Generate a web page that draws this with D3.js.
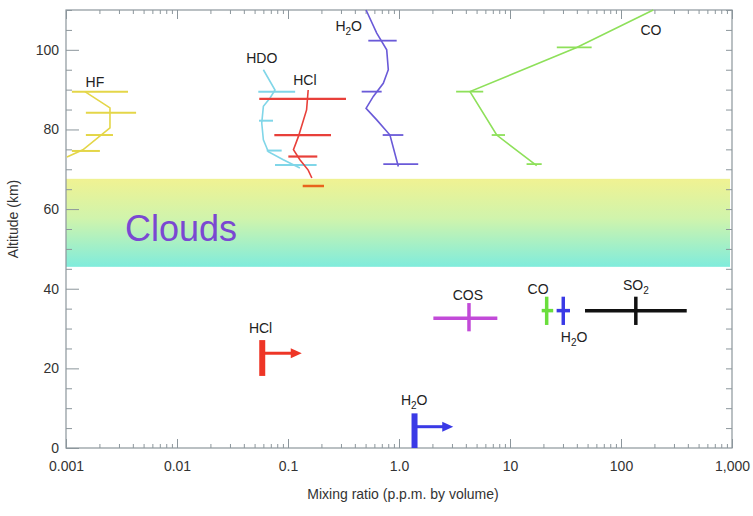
<!DOCTYPE html>
<html>
<head>
<meta charset="utf-8">
<script src="https://cdn.jsdelivr.net/npm/d3@7"></script>
<style>
  body { margin: 0; background: #fff; }
  svg { display: block; font-family: 'Liberation Sans', Arial, sans-serif; }
</style>
</head>
<body>
<div id="chart"></div>
<script>
const WIDTH = 753;
const HEIGHT = 516;

// axis ticks
const xTickValues = [0.001, 0.01, 0.1, 1, 10, 100, 1000];
const xTickLabels = ['0.001', '0.01', '0.1', '1.0', '10', '100', '1,000'];
const yTickValues = [0, 20, 40, 60, 80, 100];

// cloud deck (km)
const cloudBase = 45.5;
const cloudTop = 67.6;

// profiles above the clouds: altitude (km) / mixing ratio (ppm)
const hfProfile = [
  { km: 89.5, ppm: 0.00148 }, { km: 85.4, ppm: 0.00249 }, { km: 80.4, ppm: 0.00249 },
  { km: 74.9, ppm: 0.00142 }, { km: 73.1, ppm: 0.00102 },
];
const hfErrors = [
  { km: 89.5, lo: 0.00113, hi: 0.00362 }, { km: 84.2, lo: 0.00151, hi: 0.00428 },
  { km: 78.6, lo: 0.00151, hi: 0.00265 }, { km: 74.6, lo: 0.00113, hi: 0.00202 },
];

const hdoProfile = [
  { km: 95.0, ppm: 0.060 }, { km: 89.9, ppm: 0.0764 }, { km: 87.9, ppm: 0.0689 },
  { km: 85.8, ppm: 0.060 }, { km: 81.6, ppm: 0.058 }, { km: 77.4, ppm: 0.060 },
  { km: 74.4, ppm: 0.0665 }, { km: 72.4, ppm: 0.0907 }, { km: 70.3, ppm: 0.128 },
];
const hdoErrors = [
  { km: 89.5, lo: 0.054, hi: 0.116 }, { km: 82.2, lo: 0.0548, hi: 0.0733 },
  { km: 74.7, lo: 0.0643, hi: 0.0877 }, { km: 71.1, lo: 0.0764, hi: 0.181 },
];

const hclProfile = [
  { km: 89.9, ppm: 0.152 }, { km: 84.9, ppm: 0.147 }, { km: 78.2, ppm: 0.124 },
  { km: 74.9, ppm: 0.112 }, { km: 72.4, ppm: 0.128 }, { km: 69.8, ppm: 0.152 },
  { km: 67.8, ppm: 0.164 },
];
const hclErrors = [
  { km: 87.7, lo: 0.0551, hi: 0.333 }, { km: 78.6, lo: 0.0753, hi: 0.244 },
  { km: 73.2, lo: 0.1007, hi: 0.1836 },
];
const hclCloudTopError = [{ km: 65.8, lo: 0.1357, hi: 0.211 }];

const h2oProfile = [
  { km: 110, ppm: 0.505 }, { km: 104.2, ppm: 0.630 }, { km: 100, ppm: 0.775 },
  { km: 95, ppm: 0.801 }, { km: 91.6, ppm: 0.722 }, { km: 88.3, ppm: 0.587 },
  { km: 85.3, ppm: 0.505 }, { km: 82.4, ppm: 0.630 }, { km: 78.6, ppm: 0.829 },
  { km: 70.7, ppm: 0.986 },
];
const h2oErrors = [
  { km: 102.3, lo: 0.529, hi: 0.953 }, { km: 89.5, lo: 0.461, hi: 0.698 },
  { km: 78.6, lo: 0.713, hi: 1.094 }, { km: 71.3, lo: 0.722, hi: 1.49 },
];

const coProfile = [
  { km: 110, ppm: 195 }, { km: 100.6, ppm: 39.9 }, { km: 89.5, ppm: 4.36 },
  { km: 78.6, ppm: 7.59 }, { km: 70.9, ppm: 17.4 },
];
const coErrors = [
  { km: 100.6, lo: 26.4, hi: 54.4 }, { km: 89.5, lo: 3.27, hi: 5.74 },
  { km: 78.6, lo: 6.84, hi: 9.02 }, { km: 71.3, lo: 14.1, hi: 19.3 },
];

// below the clouds: value with ranges in ppm and km
const belowCloudMeasures = [
  { name: 'COS', km: 32.6, ppm: 4.27, lo: 2.04, hi: 7.69, kmLo: 29.3, kmHi: 36.4 },
  { name: 'CO', km: 34.5, ppm: 21.4, lo: 19.3, hi: 24.5, kmLo: 30.9, kmHi: 38.0 },
  { name: 'H2O', km: 34.5, ppm: 30.2, lo: 26.3, hi: 34.7, kmLo: 30.9, kmHi: 38.0 },
  { name: 'SO2', km: 34.5, ppm: 136, lo: 47.4, hi: 391, kmLo: 30.9, kmHi: 38.0 },
];

// lower limits (arrow points to larger values)
const lowerLimits = [
  { name: 'HCl', ppm: 0.0586, kmLo: 18.1, kmHi: 27.1, km: 23.8, arrowTo: 0.133 },
  { name: 'H2O', ppm: 1.38, kmLo: 0, kmHi: 8.7, km: 5.35, arrowTo: 3.08 },
];

const MARGIN = { left: 66, right: 21, top: 10, bottom: 68 };

const x = d3.scaleLog().domain([0.001, 1000]).range([MARGIN.left, WIDTH - MARGIN.right]);
const y = d3.scaleLinear().domain([0, 110]).range([HEIGHT - MARGIN.bottom, MARGIN.top]);

const svg = d3.select('#chart').append('svg').attr('width', WIDTH).attr('height', HEIGHT);

const AXIS_COLOR = '#8c969c';
const TEXT_COLOR = '#333';

function addClouds() {
  const grad = svg.append('defs').append('linearGradient')
    .attr('id', 'cloudGrad').attr('x1', 0).attr('y1', 0).attr('x2', 0).attr('y2', 1);
  grad.append('stop').attr('offset', '0%').attr('stop-color', '#f0f292');
  grad.append('stop').attr('offset', '45%').attr('stop-color', '#d0f4ac');
  grad.append('stop').attr('offset', '100%').attr('stop-color', '#80ecdc');

  svg.append('rect')
    .attr('x', x.range()[0])
    .attr('y', y(cloudTop))
    .attr('width', x.range()[1] - x.range()[0] - 2)
    .attr('height', y(cloudBase) - y(cloudTop))
    .attr('fill', 'url(#cloudGrad)');

  svg.append('text')
    .attr('x', x(0.0034))
    .attr('y', y((cloudBase + cloudTop) / 2))
    .attr('dy', '0.5em')
    .attr('font-size', 36)
    .attr('fill', '#7a48d2')
    .text('Clouds');
}

function minorTicks(domain) {
  const out = [];
  for (let e = Math.log10(domain[0]); e < Math.log10(domain[1]); e++) {
    for (let m = 2; m <= 9; m++) out.push(m * Math.pow(10, e));
  }
  return out;
}

function styleAxis(g) {
  g.select('.domain').remove();
  g.selectAll('line').attr('stroke', AXIS_COLOR);
  g.selectAll('text').attr('fill', TEXT_COLOR).attr('font-size', 14);
}

function addAxes() {
  const bottom = y(0);
  const top = y(110);
  const left = x.range()[0];
  const right = x.range()[1];
  const minors = minorTicks(x.domain());
  const yMinors = d3.range(0, 111, 5).filter((v) => v % 20 !== 0);

  // frame
  svg.append('rect')
    .attr('x', left).attr('y', top)
    .attr('width', right - left).attr('height', bottom - top)
    .attr('fill', 'none').attr('stroke', AXIS_COLOR).attr('stroke-width', 1.2);

  // bottom
  svg.append('g').attr('transform', `translate(0,${bottom})`)
    .call(d3.axisBottom(x).tickValues(xTickValues).tickSize(-9).tickPadding(13)
      .tickFormat((d, i) => xTickLabels[i]))
    .call(styleAxis);
  svg.append('g').attr('transform', `translate(0,${bottom})`)
    .call(d3.axisBottom(x).tickValues(minors).tickSize(-4).tickFormat(''))
    .call(styleAxis);

  // top
  svg.append('g').attr('transform', `translate(0,${top})`)
    .call(d3.axisTop(x).tickValues(xTickValues).tickSize(-9).tickFormat(''))
    .call(styleAxis);
  svg.append('g').attr('transform', `translate(0,${top})`)
    .call(d3.axisTop(x).tickValues(minors).tickSize(-4).tickFormat(''))
    .call(styleAxis);

  // left
  svg.append('g').attr('transform', `translate(${left},0)`)
    .call(d3.axisLeft(y).tickValues(yTickValues).tickSize(-13).tickPadding(7))
    .call(styleAxis);
  svg.append('g').attr('transform', `translate(${left},0)`)
    .call(d3.axisLeft(y).tickValues(yMinors).tickSize(-6).tickFormat(''))
    .call(styleAxis);

  // right
  svg.append('g').attr('transform', `translate(${right},0)`)
    .call(d3.axisRight(y).tickValues(d3.range(5, 111, 5)).tickSize(-6).tickFormat(''))
    .call(styleAxis);

  svg.append('text')
    .attr('x', (left + right) / 2 + 4)
    .attr('y', 499)
    .attr('text-anchor', 'middle')
    .attr('font-size', 14)
    .attr('fill', TEXT_COLOR)
    .text('Mixing ratio (p.p.m. by volume)');

  svg.append('text')
    .attr('transform', `translate(18,${y(57.5)}) rotate(-90)`)
    .attr('text-anchor', 'middle')
    .attr('font-size', 14)
    .attr('fill', TEXT_COLOR)
    .text('Altitude (km)');
}

function addProfile(points, errors, color, barWidth) {
  const line = d3.line().x((d) => x(d.ppm)).y((d) => y(d.km));
  const g = svg.append('g');
  g.append('path')
    .datum(points)
    .attr('d', line)
    .attr('fill', 'none')
    .attr('stroke', color)
    .attr('stroke-width', 1.6);
  g.selectAll('line.err')
    .data(errors)
    .enter()
    .append('line')
    .attr('class', 'err')
    .attr('x1', (d) => x(d.lo))
    .attr('x2', (d) => x(d.hi))
    .attr('y1', (d) => y(d.km))
    .attr('y2', (d) => y(d.km))
    .attr('stroke', color)
    .attr('stroke-width', barWidth);
}

const crossColors = { COS: '#c24ad8', CO: '#6ade3c', H2O: '#3a3ae6', SO2: '#111' };
const limitColors = { HCl: '#ee3526', H2O: '#3a3ae6' };

function addCrosses() {
  const g = svg.append('g').selectAll('g').data(belowCloudMeasures).enter().append('g');
  g.append('line')
    .attr('x1', (d) => x(d.lo)).attr('x2', (d) => x(d.hi))
    .attr('y1', (d) => y(d.km)).attr('y2', (d) => y(d.km))
    .attr('stroke', (d) => crossColors[d.name])
    .attr('stroke-width', 3.5);
  g.append('line')
    .attr('x1', (d) => x(d.ppm)).attr('x2', (d) => x(d.ppm))
    .attr('y1', (d) => y(d.kmLo)).attr('y2', (d) => y(d.kmHi))
    .attr('stroke', (d) => crossColors[d.name])
    .attr('stroke-width', 3.5);
}

function addLimits() {
  const g = svg.append('g').selectAll('g').data(lowerLimits).enter().append('g');
  g.append('line')
    .attr('x1', (d) => x(d.ppm)).attr('x2', (d) => x(d.ppm))
    .attr('y1', (d) => y(d.kmLo)).attr('y2', (d) => y(d.kmHi))
    .attr('stroke', (d) => limitColors[d.name])
    .attr('stroke-width', 6);
  g.append('line')
    .attr('x1', (d) => x(d.ppm)).attr('x2', (d) => x(d.arrowTo) - 8)
    .attr('y1', (d) => y(d.km)).attr('y2', (d) => y(d.km))
    .attr('stroke', (d) => limitColors[d.name])
    .attr('stroke-width', 3);
  g.append('path')
    .attr('d', (d) => {
      const ex = x(d.arrowTo);
      const ey = y(d.km);
      return `M${ex},${ey} L${ex - 11},${ey - 5} L${ex - 11},${ey + 5} Z`;
    })
    .attr('fill', (d) => limitColors[d.name]);
}

function addLabel(text, sub, tail, ppm, km) {
  const t = svg.append('text')
    .attr('x', x(ppm))
    .attr('y', y(km))
    .attr('dy', '0.36em')
    .attr('text-anchor', 'middle')
    .attr('font-size', 14)
    .attr('fill', '#222');
  t.append('tspan').text(text);
  if (sub) {
    t.append('tspan').attr('font-size', 10).attr('dy', 4).text(sub);
    t.append('tspan').attr('dy', -4).text(tail);
  }
}

addClouds();
addAxes();

addProfile(hfProfile, hfErrors, '#e4d648', 2);
addProfile(hdoProfile, hdoErrors, '#80d6e8', 2);
addProfile(hclProfile, hclErrors, '#e8403a', 2.2);
addProfile([], hclCloudTopError, '#e8641c', 2.5);
addProfile(h2oProfile, h2oErrors, '#6a5ad8', 1.8);
addProfile(coProfile, coErrors, '#8ee05a', 1.8);

addCrosses();
addLimits();

// species labels
addLabel('HF', null, null, 0.00182, 92.0);
addLabel('HDO', null, null, 0.058, 98.0);
addLabel('HCl', null, null, 0.142, 92.5);
addLabel('H', '2', 'O', 0.352, 106);
addLabel('CO', null, null, 186, 105);
addLabel('COS', null, null, 4.17, 38.4);
addLabel('CO', null, null, 17.9, 39.9);
addLabel('H', '2', 'O', 37.8, 28.0);
addLabel('SO', '2', '', 136, 41);
addLabel('HCl', null, null, 0.0566, 30.1);
addLabel('H', '2', 'O', 1.37, 12.1);
</script>
</body>
</html>
